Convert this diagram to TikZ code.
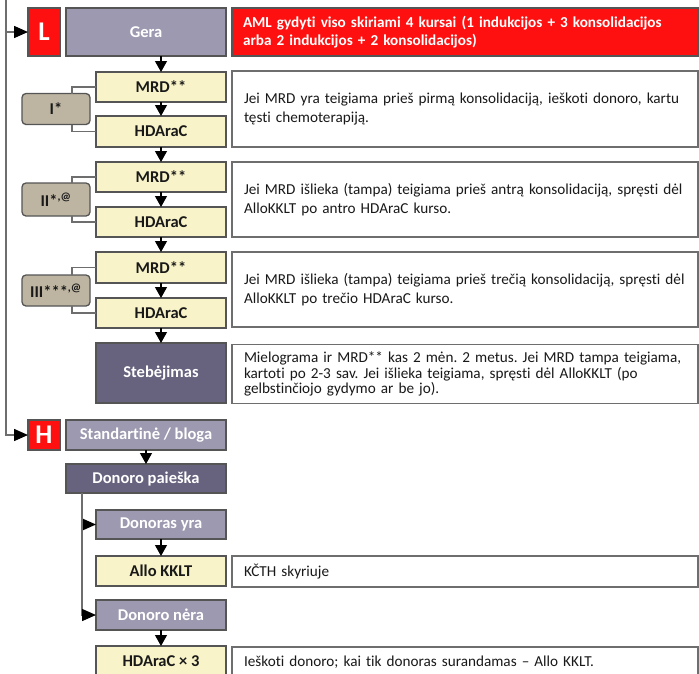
\documentclass[tikz,border=0pt]{standalone}
\usepackage{fontspec}
\setmainfont{Carlito}[RawFeature=-liga]
\usetikzlibrary{arrows.meta}

\definecolor{tagred}{RGB}{255,16,16}
\definecolor{phasegray}{RGB}{157,153,176}
\definecolor{phasedark}{RGB}{103,98,126}
\definecolor{stepyellow}{RGB}{248,243,200}
\definecolor{cycletan}{RGB}{189,181,162}
\definecolor{boxline}{RGB}{85,85,85}
\definecolor{noteline}{RGB}{110,110,110}
\definecolor{wire}{RGB}{110,110,110}

\tikzset{
  base/.style={draw=boxline, line width=1.3pt, inner sep=0pt, outer sep=0pt,
    align=center, font=\fontsize{16.5}{17}\selectfont\bfseries},
  redtag/.style={base, fill=tagred, text=white, minimum width=32pt,
    font=\fontsize{27}{27}\selectfont\bfseries},
  phase/.style={base, fill=phasegray, text=white},
  darkphase/.style={base, fill=phasedark, text=white},
  stepbox/.style={base, fill=stepyellow, text=black!90, minimum width=130pt},
  cyclebox/.style={base, fill=cycletan, text=black!90, rounded corners=4pt,
    minimum width=68pt, minimum height=31pt},
  note/.style={draw=noteline, line width=1.6pt, fill=white, outer sep=0pt,
    inner ysep=0pt, inner xsep=12pt, text width=442pt, align=left,
    font=\fontsize{15.2}{19.5}\selectfont\frenchspacing, text=black!90},
  tightnote/.style={note, font=\fontsize{15.2}{15.8}\selectfont\frenchspacing},
  rednote/.style={draw=boxline, line width=1.3pt, fill=tagred, outer sep=0pt,
    inner ysep=0pt, inner xsep=11pt, text width=444pt, align=left, text=white,
    font=\fontsize{15.2}{17.5}\selectfont\bfseries\frenchspacing},
  arr/.style={draw=black, line width=1.2pt, -{Triangle[length=11pt,width=12pt]}},
  feed/.style={draw=wire, line width=1.5pt, -{Triangle[length=14pt,width=12pt,color=black]}},
  feedline/.style={draw=wire, line width=1.5pt},
  brk/.style={draw=wire, line width=1.2pt},
}

\begin{document}
\begin{tikzpicture}[x=1pt, y=-1pt]
\useasboundingbox (0,0) rectangle (699,673);

% ---- low-risk branch ----
\node[redtag, minimum height=48pt] (ltag) at (44,32) {L};
\node[phase, minimum width=160pt, minimum height=48pt] (gera) at (146,32) {Gera};
\node[rednote, minimum height=48pt] (aml) at (465,32)
  {AML gydyti viso skiriami 4 kursai (1 indukcijos + 3 konsolidacijos\\
   arba 2 indukcijos + 2 konsolidacijos)};

% cycle I
\node[stepbox, minimum height=30pt] (mrd1) at (161,87) {MRD**};
\node[stepbox, minimum height=31pt] (hd1) at (161,131.5) {HDAraC};
\node[cyclebox] (c1) at (56,109) {I*};
\node[note, minimum height=76pt] (n1) at (465,109)
  {Jei MRD yra teigiama prieš pirmą konsolidaciją, ieškoti donoro, kartu\\
   tęsti chemoterapiją.};

% cycle II
\node[stepbox, minimum height=30pt] (mrd2) at (161,177) {MRD**};
\node[stepbox, minimum height=30pt] (hd2) at (161,222) {HDAraC};
\node[cyclebox, minimum height=33pt] (c2) at (56,199.5) {II*\textsuperscript{,@}};
\node[note, minimum height=75pt] (n2) at (465,199.5)
  {Jei MRD išlieka (tampa) teigiama prieš antrą konsolidaciją, spręsti dėl\\
   AlloKKLT po antro HDAraC kurso.};

% cycle III
\node[stepbox, minimum height=31pt] (mrd3) at (161,267.5) {MRD**};
\node[stepbox, minimum height=30pt] (hd3) at (161,313) {HDAraC};
\node[cyclebox] (c3) at (56,290.5) {III***\textsuperscript{,@}};
\node[note, minimum height=75pt] (n3) at (465,289.5)
  {Jei MRD išlieka (tampa) teigiama prieš trečią konsolidaciją, spręsti dėl\\
   AlloKKLT po trečio HDAraC kurso.};

% follow-up
\node[darkphase, minimum width=130pt, minimum height=60pt] (obs) at (161,373) {Stebėjimas};
\node[tightnote, minimum height=59pt] (n4) at (465,374)
  {Mielograma ir MRD** kas 2 mėn. 2 metus. Jei MRD tampa teigiama,\\
   kartoti po 2-3 sav. Jei išlieka teigiama, spręsti dėl AlloKKLT (po\\
   gelbstinčiojo gydymo ar be jo).};

% ---- high-risk branch ----
\node[redtag, minimum height=30pt] (htag) at (44,435) {H};
\node[phase, minimum width=160pt, minimum height=30pt] (std) at (146,435) {Standartinė / bloga};
\node[darkphase, minimum width=160pt, minimum height=29pt] (search) at (146,478.5) {Donoro paieška};
\node[phase, minimum width=130pt, minimum height=29pt] (dyes) at (161,524.5) {Donoras yra};
\node[stepbox, minimum height=30pt] (allo) at (161,571) {Allo KKLT};
\node[note, minimum height=31pt] (n5) at (465,571.5) {KČTH skyriuje};
\node[phase, minimum width=130pt, minimum height=30pt] (dno) at (161,615) {Donoro nėra};
\node[stepbox, minimum height=30pt] (hdx) at (161,661) {HDAraC × 3};
\node[note, minimum height=30pt] (n6) at (465,662) {Ieškoti donoro; kai tik donoras surandamas – Allo KKLT.};

% ---- flow arrows ----
\draw[arr] (gera.south -| mrd1.north) -- (mrd1.north);
\draw[arr] (mrd1) -- (hd1);
\draw[arr] (hd1) -- (mrd2);
\draw[arr] (mrd2) -- (hd2);
\draw[arr] (hd2) -- (mrd3);
\draw[arr] (mrd3) -- (hd3);
\draw[arr] (hd3) -- (obs);
\draw[arr] (std) -- (search);
\draw[arr] (dyes) -- (allo);
\draw[arr] (dno) -- (hdx);

% ---- cycle brackets ----
\draw[brk] (mrd1.west) -| ([xshift=16pt]c1.north);
\draw[brk] ([xshift=16pt]c1.south) |- (hd1.west);
\draw[brk] (mrd2.west) -| ([xshift=16pt]c2.north);
\draw[brk] ([xshift=16pt]c2.south) |- (hd2.west);
\draw[brk] (mrd3.west) -| ([xshift=16pt]c3.north);
\draw[brk] ([xshift=16pt]c3.south) |- (hd3.west);

% ---- left feed line ----
\coordinate (feedtop) at (6,0);
\coordinate (lbranch) at (6,32);
\draw[feedline] (feedtop) -- (lbranch);
\draw[feed] (lbranch) -- (ltag.west);
\draw[feed] (lbranch) |- (htag.west);

% ---- donor branch ----
\coordinate (dtrunk) at ([xshift=-64pt]search.south);
\draw[feed] (dtrunk) |- (dyes.west);
\draw[feed] (dtrunk) |- (dno.west);
\end{tikzpicture}
\end{document}
